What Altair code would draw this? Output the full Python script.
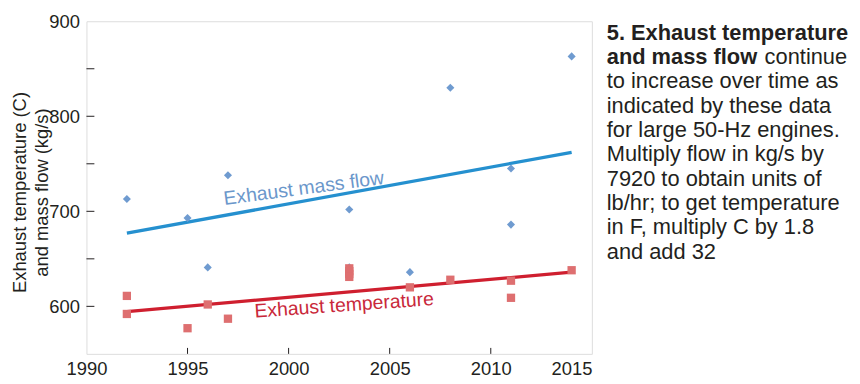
import altair as alt
import pandas as pd

# ---- data ----
flow_year = [1992, 1995, 1996, 1997, 2003, 2003, 2006, 2008, 2011, 2011, 2014]
flow_val = [713, 693, 641, 738, 702, 641, 636, 830, 745, 686, 863]

temp_year = [1992, 1992, 1995, 1996, 1997, 2003, 2003, 2003, 2003, 2006, 2008, 2011, 2011, 2014]
temp_val = [611, 592, 577, 602, 587, 640, 637, 634, 631, 620, 628, 627, 609, 638]

trend_year = [1992, 2014]
flow_trend = [677, 762]
temp_trend = [594.5, 636]

x_tick_labels = [1990, 1995, 2000, 2005, 2010, 2015]
x_minor_ticks = [1995, 2000, 2005, 2010]
y_tick_labels = [600, 700, 800, 900]
y_ticks = [600, 650, 700, 750, 800, 850]

label_flow = {"text": "Exhaust mass flow", "year": 2000.75, "value": 724}
label_temp = {"text": "Exhaust temperature", "year": 2002.75, "value": 601}

note_lines = [
    "5. Exhaust temperature",
    "and mass flow",
    "to increase over time as",
    "indicated by these data",
    "for large 50-Hz engines.",
    "Multiply flow in kg/s by",
    "7920 to obtain units of",
    "lb/hr; to get temperature",
    "in F, multiply C by 1.8",
    "and add 32",
]
note_cont = "continue"

FONT = "Liberation Sans"
W, H = 509, 335

flow_df = pd.DataFrame({"year": flow_year, "value": flow_val})
temp_df = pd.DataFrame({"year": temp_year, "value": temp_val})
ftrend_df = pd.DataFrame({"year": trend_year, "value": flow_trend})
ttrend_df = pd.DataFrame({"year": trend_year, "value": temp_trend})

xscale = alt.Scale(domain=[1990, 2015], nice=False, zero=False)
yscale = alt.Scale(domain=[550, 900], nice=False, zero=False)

X = alt.X(
    "year:Q",
    scale=xscale,
    axis=alt.Axis(
        values=x_tick_labels,
        format="d",
        ticks=False,
        domain=False,
        grid=False,
        labelFontSize=18.5,
        labelFont=FONT,
        labelColor="#231f20",
        labelPadding=6,
        labelFlush=False,
        labelAlign=alt.expr("datum.value == 2015 ? 'right' : 'center'"),
        title=None,
    ),
)
Y = alt.Y(
    "value:Q",
    scale=yscale,
    axis=alt.Axis(
        values=y_tick_labels,
        ticks=False,
        domain=False,
        grid=False,
        labelFontSize=18.5,
        labelFont=FONT,
        labelColor="#231f20",
        labelPadding=7,
        title=["Exhaust temperature (C)", "and mass flow (kg/s)"],
        titleFont=FONT,
        titleFontSize=18.5,
        titleFontWeight="normal",
        titleColor="#231f20",
        titleLineHeight=22,
        titleAngle=270,
        titleAlign="center",
        titleBaseline="middle",
        titleX=-67,
        titleY=172,
    ),
)

ftrend = alt.Chart(ftrend_df).mark_line(color="#2590cf", strokeWidth=3.3).encode(x=X, y=Y)
ttrend = alt.Chart(ttrend_df).mark_line(color="#cf1f2f", strokeWidth=3.3).encode(x=X, y=Y)

flow_pts = alt.Chart(flow_df).mark_point(
    shape="diamond", filled=True, size=66, color="#6f9bd0", opacity=1
).encode(x=X, y=Y)
temp_pts = alt.Chart(temp_df).mark_point(
    shape="square", filled=True, size=70, color="#de6f70", opacity=1
).encode(x=X, y=Y)

flow_lab = alt.Chart(pd.DataFrame([label_flow])).mark_text(
    font=FONT, fontSize=19.5, color="#6b97cb", angle=352.5, align="center", baseline="middle"
).encode(x=X, y=Y, text="text:N")
temp_lab = alt.Chart(pd.DataFrame([label_temp])).mark_text(
    font=FONT, fontSize=19.5, color="#c9283a", angle=356, align="center", baseline="middle"
).encode(x=X, y=Y, text="text:N")

yt = alt.Chart(pd.DataFrame({"value": y_ticks})).mark_rule(color="#231f20", strokeWidth=1).encode(
    y=Y, x=alt.value(0), x2=alt.value(8)
)
xt = alt.Chart(pd.DataFrame({"year": x_minor_ticks})).mark_rule(color="#231f20", strokeWidth=1).encode(
    x=X, y=alt.value(H), y2=alt.value(H - 6)
)

note_layers = []
x0 = 611 - 87
base0 = 38.5 - 20
step = 24.5
for i, line in enumerate(note_lines):
    bold = i == 0 or i == 1
    note_layers.append(
        alt.Chart(pd.DataFrame({"t": [line]})).mark_text(
            font=FONT, fontSize=22, fontWeight="bold" if bold else "normal",
            color="#231f20", align="left", baseline="alphabetic",
        ).encode(text="t:N", x=alt.value(x0), y=alt.value(base0 + i * step))
    )
note_layers.append(
    alt.Chart(pd.DataFrame({"t": [note_cont]})).mark_text(
        font=FONT, fontSize=22, fontWeight="normal",
        color="#231f20", align="left", baseline="alphabetic",
    ).encode(text="t:N", x=alt.value(770 - 87), y=alt.value(base0 + step))
)

chart = alt.layer(
    ftrend, ttrend, flow_pts, temp_pts, flow_lab, temp_lab, yt, xt, *note_layers
).properties(
    width=W,
    height=H,
    autosize=alt.AutoSizeParams(type="none"),
    padding={"left": 79, "top": 12, "right": 262, "bottom": 27},
).configure_view(
    stroke="#231f20", strokeWidth=1.3
).configure(background="white")

chart.save("out.html", embed_options={"renderer": "svg", "actions": False})
